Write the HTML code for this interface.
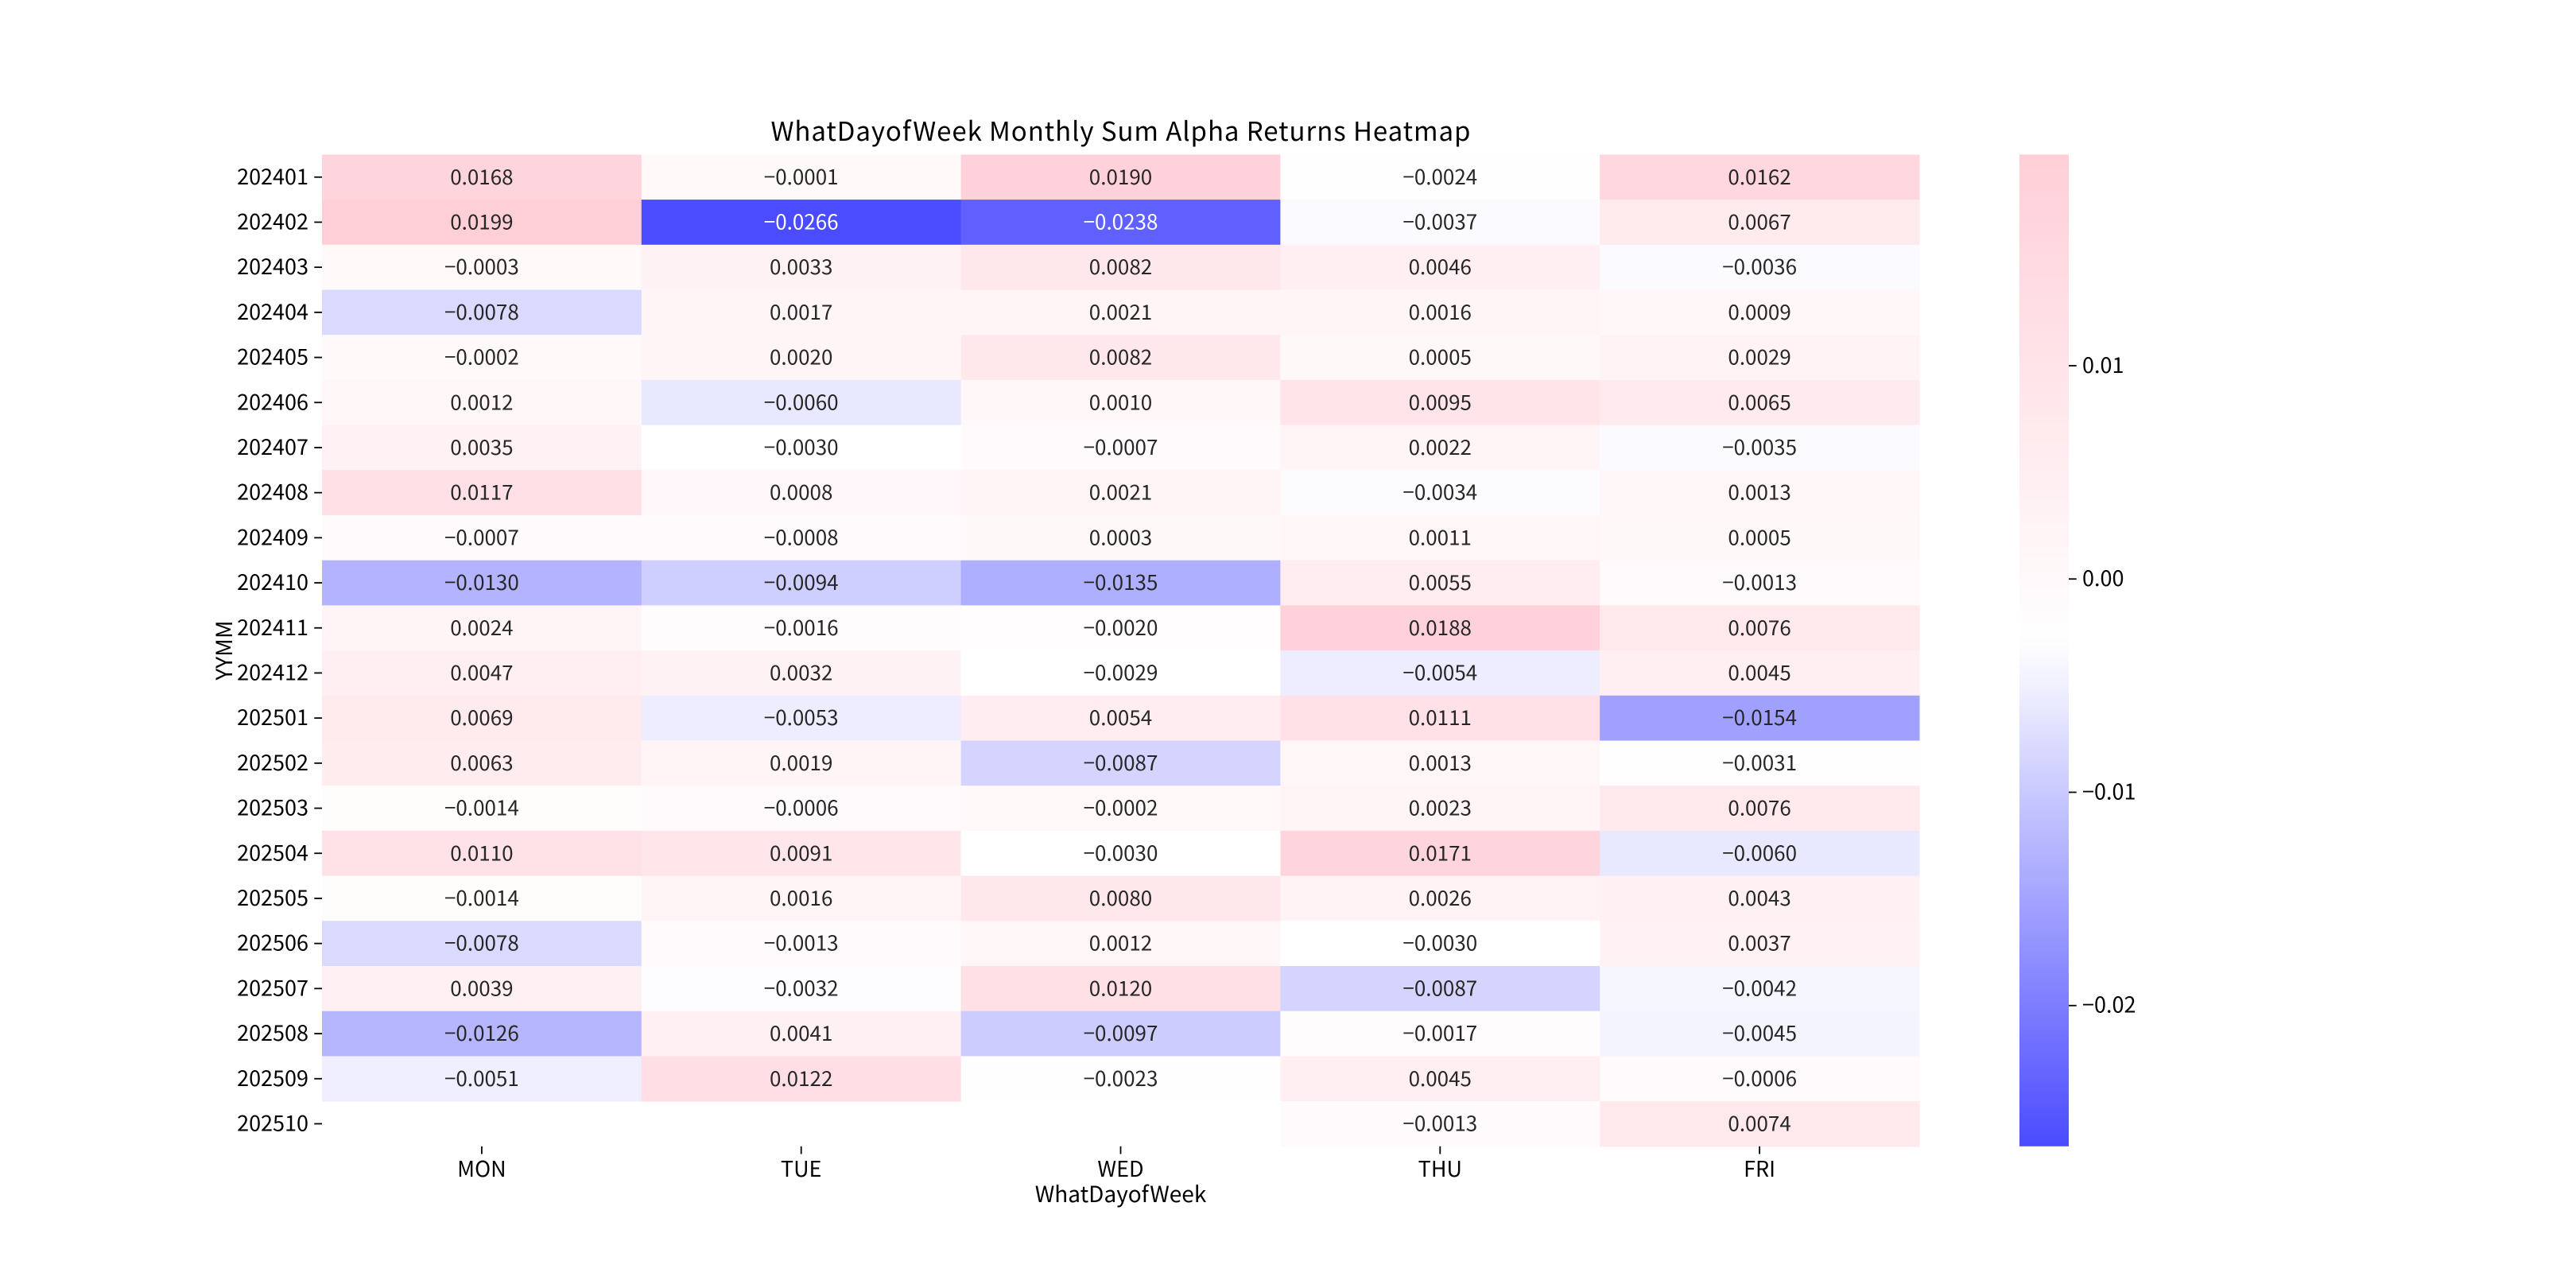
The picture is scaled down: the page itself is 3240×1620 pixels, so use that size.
<!DOCTYPE html>
<html><head><meta charset="utf-8">
<style>
html,body{margin:0;padding:0;background:#fff;}
svg{display:block;font-family:"WenQuanYi Zen Hei Mono","WenQuanYi Zen Hei","Noto Sans CJK SC","Liberation Sans",sans-serif;}
</style></head>
<body>
<svg id="chart" width="3240" height="1620" viewBox="0 0 3240 1620" xmlns="http://www.w3.org/2000/svg">
<rect width="3240" height="1620" fill="#fff"/>
<text x="1409.5" y="177" font-size="33" text-anchor="middle" fill="#000" textLength="880" lengthAdjust="spacing">WhatDayofWeek Monthly Sum Alpha Returns Heatmap</text>
<g id="cells"></g>
<g id="yaxis"></g>
<g id="xaxis"></g>
<text x="0" y="0" font-size="28" text-anchor="middle" transform="translate(292,818) rotate(-90)">YYMM</text>
<text x="1409.5" y="1512" font-size="28" text-anchor="middle">WhatDayofWeek</text>
<defs><linearGradient id="cbg" x1="0" y1="1" x2="0" y2="0"></linearGradient></defs>
<g id="cbar"></g>
</svg>
<script>
const rowLabels = ["202401","202402","202403","202404","202405","202406","202407","202408","202409","202410","202411","202412","202501","202502","202503","202504","202505","202506","202507","202508","202509","202510"];
const colLabels = ["MON","TUE","WED","THU","FRI"];
const monVals = [0.0168,0.0199,-0.0003,-0.0078,-0.0002,0.0012,0.0035,0.0117,-0.0007,-0.0130,0.0024,0.0047,0.0069,0.0063,-0.0014,0.0110,-0.0014,-0.0078,0.0039,-0.0126,-0.0051,null];
const tueVals = [-0.0001,-0.0266,0.0033,0.0017,0.0020,-0.0060,-0.0030,0.0008,-0.0008,-0.0094,-0.0016,0.0032,-0.0053,0.0019,-0.0006,0.0091,0.0016,-0.0013,-0.0032,0.0041,0.0122,null];
const wedVals = [0.0190,-0.0238,0.0082,0.0021,0.0082,0.0010,-0.0007,0.0021,0.0003,-0.0135,-0.0020,-0.0029,0.0054,-0.0087,-0.0002,-0.0030,0.0080,0.0012,0.0120,-0.0097,-0.0023,null];
const thuVals = [-0.0024,-0.0037,0.0046,0.0016,0.0005,0.0095,0.0022,-0.0034,0.0011,0.0055,0.0188,-0.0054,0.0111,0.0013,0.0023,0.0171,0.0026,-0.0030,-0.0087,-0.0017,0.0045,-0.0013];
const friVals = [0.0162,0.0067,-0.0036,0.0009,0.0029,0.0065,-0.0035,0.0013,0.0005,-0.0013,0.0076,0.0045,-0.0154,-0.0031,0.0076,-0.0060,0.0043,0.0037,-0.0042,-0.0045,-0.0006,0.0074];
const cbTicks = [0.01,0.00,-0.01,-0.02];
const cbTickLabels = ["0.01","0.00","\u22120.01","\u22120.02"];

const series = [monVals,tueVals,wedVals,thuVals,friVals];
const NS = "http://www.w3.org/2000/svg";
const L=405, R=2414, T=194.4, B=1441.8;
const allVals = series.flat().filter(v=>v!==null);
const vmin = Math.min(...allVals), vmax = Math.max(...allVals);
const vWhite = -0.003;
const cw=(R-L)/colLabels.length, rh=(B-T)/rowLabels.length;
const xPos = i => L + i*cw;
const yPos = j => T + j*rh;
function color(v){
  if(v<vWhite){const t=Math.min(1,(vWhite-v)/(vWhite-vmin));return [255-180*t,255-180*t,255];}
  const t=Math.min(1,(v-vWhite)/(vmax-vWhite));
  return [255,255-48*t,255-39*t];
}
function rgb(c){return `rgb(${Math.round(c[0])},${Math.round(c[1])},${Math.round(c[2])})`;}
function fmt(v){const s=Math.abs(v).toFixed(4);return (v<0?"\u2212":"")+s;}
function mk(tag,attrs,parent){const e=document.createElementNS(NS,tag);for(const k in attrs)e.setAttribute(k,attrs[k]);parent.appendChild(e);return e;}
const cells=document.getElementById('cells');
series.forEach((vals,i)=>{
  vals.forEach((v,j)=>{
    if(v===null) return;
    const c=color(v);
    const r=mk('rect',{x:xPos(i),y:yPos(j),width:cw+0.5,height:rh+0.5,fill:rgb(c)},cells);
    
    
    const lum=(0.2126*c[0]+0.7152*c[1]+0.0722*c[2])/255;
    const t=mk('text',{x:xPos(i)+cw/2,y:yPos(j)+rh/2+9,'font-size':26,'text-anchor':'middle',fill:lum>0.55?'#262626':'#ffffff'},cells);
    t.textContent=fmt(v);
    
    
  });
});
const ya=document.getElementById('yaxis');
rowLabels.forEach((lab,j)=>{
  const y=yPos(j)+rh/2;
  const ln=mk('line',{x1:L-9.7,x2:L,y1:y,y2:y,stroke:'#000','stroke-width':1.8},ya);
  
  
  const t=mk('text',{x:L-17,y:y+9,'font-size':27,'text-anchor':'end'},ya);
  t.textContent=lab;
  
  
});
const xa=document.getElementById('xaxis');
colLabels.forEach((lab,i)=>{
  const x=xPos(i)+cw/2;
  const ln=mk('line',{x1:x,x2:x,y1:B,y2:B+9.7,stroke:'#000','stroke-width':1.8},xa);
  
  
  const t=mk('text',{x:x,y:B+38,'font-size':27,'text-anchor':'middle'},xa);
  t.textContent=lab;
  
  
});
const grad=document.getElementById('cbg');
for(let k=0;k<=60;k++){
  const v=vmin+(vmax-vmin)*k/60;
  mk('stop',{offset:(k/60).toFixed(4),'stop-color':rgb(color(v))},grad);
}
const cb=document.getElementById('cbar');
const CL=2540, CR=2602;
const cy = v => T + (vmax - v)/(vmax - vmin)*(B-T);
const cr=mk('rect',{x:CL,y:T,width:CR-CL,height:B-T,fill:'url(#cbg)'},cb);


cbTicks.forEach((v,k)=>{
  const y=cy(v);
  const ln=mk('line',{x1:CR,x2:CR+9.7,y1:y,y2:y,stroke:'#000','stroke-width':1.8},cb);
  
  
  const t=mk('text',{x:CR+17,y:y+9,'font-size':27},cb);
  t.textContent=cbTickLabels[k];
  
  
});
</script>
</body></html>
